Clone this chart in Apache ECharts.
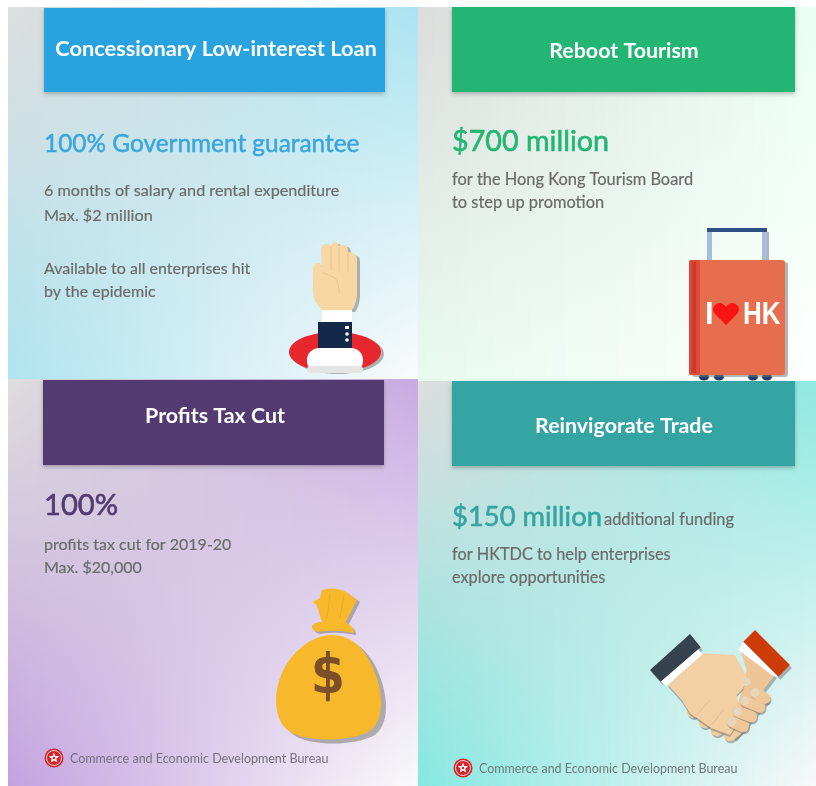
<!DOCTYPE html>
<html>
<head>
<meta charset="utf-8">
<style>
  html, body { margin: 0; padding: 0; background: #fff; }
  #main { width: 816px; height: 786px; }
</style>
<script src="https://cdn.jsdelivr.net/npm/echarts@6/dist/echarts.min.js"></script>
</head>
<body>
<div id="main"></div>
<script>
// panel contents, in order: top left, top right, bottom left, bottom right
const panelTitles = ["Concessionary Low-interest Loan", "Reboot Tourism", "Profits Tax Cut", "Reinvigorate Trade"];
const panelHighlights = ["100% Government guarantee", "$700 million", "100%", "$150 million"];
const panelColors = ["#29a3df", "#22b573", "#533a70", "#35a5a4"];
const bodyTopLeft = ["6 months of salary and rental expenditure", "Max. $2 million", "Available to all enterprises hit", "by the epidemic"];
const bodyTopRight = ["for the Hong Kong Tourism Board", "to step up promotion"];
const bodyBottomLeft = ["profits tax cut for 2019-20", "Max. $20,000"];
const bodyBottomRight = ["for HKTDC to help enterprises", "explore opportunities"];
const highlightSuffix = "additional funding";
const footerText = "Commerce and Economic Development Bureau";

const FONT = "Lato, 'Open Sans', sans-serif";
const GREY = "#6b6b6b";

const chart = echarts.init(document.getElementById("main"), null, { renderer: "canvas" });

// 文字
function label(text, x, y, size, fill, weight, align, thicken) {
  const style = {
    text: text, fill: fill, fontSize: size, fontFamily: FONT,
    fontWeight: weight || "normal", textAlign: align || "left", textVerticalAlign: "middle",
  };
  if (thicken) {
    style.stroke = fill;
    style.lineWidth = thicken;
  }
  return { type: "text", x: x, y: y, z: 20, style: style };
}

function hex(c) {
  return [1, 3, 5].map((i) => parseInt(c.slice(i, i + 2), 16));
}

function mix(a, b, t) {
  return a.map((v, i) => v + (b[i] - v) * t);
}

function rgb(c) {
  return "rgb(" + c.map((v) => Math.round(v)).join(",") + ")";
}

// 背景：四角颜色，竖条拼出双线性渐变
function panel(x, y, w, h, corners) {
  const [tl, tr, bl, br] = corners.map(hex);
  const step = 4;
  const strips = [];
  for (let sx = 0; sx < w; sx += step) {
    const t = (sx + step / 2) / w;
    strips.push({
      type: "rect", z: 1, silent: true,
      shape: { x: x + sx, y: y, width: Math.min(step, w - sx), height: h },
      style: {
        fill: {
          type: "linear", x: 0, y: 0, x2: 0, y2: 1,
          colorStops: [
            { offset: 0, color: rgb(mix(tl, tr, t)) },
            { offset: 1, color: rgb(mix(bl, br, t)) },
          ],
        },
      },
    });
  }
  return strips;
}

// 标题块
function header(x, y, w, h, color) {
  return {
    type: "rect", z: 5,
    shape: { x: x, y: y, width: w, height: h },
    style: { fill: color, shadowBlur: 4, shadowOffsetY: 2, shadowColor: "rgba(0,0,0,0.25)" },
  };
}

let shapeCount = 0;
function pathType(pathData) {
  const name = "iconPath" + shapeCount++;
  echarts.graphic.registerShape(name, echarts.graphic.extendPath(pathData));
  return name;
}

function withShadow(style, shadow) {
  if (shadow) {
    style.shadowColor = "rgba(120,120,120,0.55)";
    style.shadowOffsetX = shadow[0];
    style.shadowOffsetY = shadow[1];
    style.shadowBlur = 0;
  }
  return style;
}

function shape(pathData, fill, z, shadow) {
  return { type: pathType(pathData), z: z || 10, style: withShadow({ fill: fill }, shadow) };
}

function stroke(pathData, color, width, z, shadow) {
  return {
    type: pathType(pathData), z: z || 11,
    style: withShadow({ fill: "none", stroke: color, lineWidth: width, lineCap: "round" }, shadow),
  };
}

function dot(x, y, r, fill, z) {
  return { type: "circle", z: z || 12, shape: { cx: x, cy: y, r: r }, style: { fill: fill } };
}

function box(x, y, w, h, fill, z, r, shadow) {
  return { type: "rect", z: z || 10, shape: { x: x, y: y, width: w, height: h, r: r || 0 }, style: withShadow({ fill: fill }, shadow) };
}

function boldText(text, x, y, size, fill, family, scaleX) {
  return {
    type: "text", x: x, y: y, z: 13, scaleX: scaleX || 1,
    style: { text: text, fill: fill, fontSize: size, fontWeight: "bold", fontFamily: family, textVerticalAlign: "middle" },
  };
}

// 手和救生圈
function lifebuoyIcon() {
  return [
    { type: "ellipse", z: 8, shape: { cx: 335, cy: 352, rx: 46, ry: 20 }, style: withShadow({ fill: "#e8262d" }, [3, 2]) },
    box(307, 348, 56, 25, "#ffffff", 9, 12),
    box(307, 366, 56, 7, "#e4e4e4", 9, 4),
    shape("M322 310 Q313 302 313 290 L313 270 Q313 263 318 263 Q322 263 322 268 L321 250 Q321 244 326 244 Q330 244 331 246 Q332 242 335 242 Q338 242 339 246 Q342 244 345 245 Q348 246 348 252 Q352 252 354 254 Q357 255 357 260 L357 295 Q356 305 352 310 Z", "#f7d7a4", 10, [3, 2]),
    stroke("M331 247 L331 270 M339 247 L339 271 M348 253 L348 272 M323 273 Q332 276 335 278 Q339 282 339 293", "#e6c08b", 0.8),
    box(322, 310, 30, 13, "#ffffff", 12),
    box(318, 322, 34, 26, "#14294a", 13),
    box(345, 326, 4, 3, "#ffffff", 14),
    dot(347, 334, 1.8, "#ffffff", 14),
    dot(347, 340, 1.8, "#ffffff", 14),
  ];
}

// 行李箱
function suitcaseIcon() {
  const wheels = [704, 719, 753, 767];
  return [
    box(707, 232, 5, 30, "#a9bcd9", 8),
    box(762, 232, 5, 30, "#a9bcd9", 8, 0, [2, 0]),
    box(707, 228, 60, 4, "#2f4f85", 9),
    box(689, 260, 96, 115, "#e76d4f", 10, 3, [3, 2]),
    box(689, 260, 11, 115, "#dc4a36", 11, 2),
    box(692, 262, 4, 111, "#c93a30", 12),
    shape("M726 325 L715 314 Q711 309 715 305 Q721 300 726 307 Q731 300 737 305 Q741 309 737 314 Z", "#fb1212", 13),
    boldText("I", 705, 315, 31, "#ffffff", "'Liberation Sans', sans-serif"),
    boldText("HK", 743, 315, 31, "#ffffff", "'Liberation Sans', sans-serif", 0.84),
  ].concat(wheels.map((x) => ({ type: "ellipse", z: 9, shape: { cx: x, cy: 377, rx: 5, ry: 3.5 }, style: { fill: "#1d3e66" } })));
}

// 钱袋
function moneyBagIcon() {
  return [
    shape("M332 635 C352 635 366 650 374 670 C384 695 384 720 370 731 C350 742 310 742 292 733 C276 725 272 700 280 678 C288 655 310 635 332 635 Z", "#f7b92b", 10, [5, 4]),
    shape("M322 622 L317 606 L313 602 L320 598 L322 590 Q335 586 346 592 L357 600 L346 622 Z", "#f7b92b", 9, [3, 2]),
    stroke("M330 594 L327 618 M344 595 L340 618", "#e6a91f", 0.8),
    shape("M319 622 L345 622 Q354 626 354 633 Q335 629 318 632 Q311 630 312 626 Q314 623 319 622 Z", "#f7b92b", 11, [2, 2]),
    {
      type: "text", x: 328, y: 678, z: 12, scaleX: 0.88,
      style: { text: "$", fill: "#7a4f2a", fontSize: 56, fontWeight: "bold", fontFamily: "'DejaVu Sans', sans-serif", textAlign: "center", textVerticalAlign: "middle" },
    },
  ];
}

// 握手，坐标按放大图读取，再换算
function handshakeIcon() {
  const px = (p) => (640 + p[0] / 3).toFixed(1) + " " + (620 + p[1] / 3).toFixed(1);
  const toPath = (pts) => "M" + pts.map(px).join(" L") + " Z";
  const leftFingers = [
    [[210, 235], [160, 275]], [[250, 265], [195, 305]], [[285, 295], [230, 330]], [[310, 310], [270, 345]],
  ];
  const rightFingers = [
    [[375, 235], [345, 218]], [[360, 262], [315, 243]], [[335, 290], [293, 275]], [[310, 320], [275, 305]],
  ];
  const nails = [[345, 218], [315, 243], [293, 275], [275, 305], [318, 185]];
  const els = [
    shape(toPath([[300, 90], [405, 165], [370, 210], [385, 240], [345, 285], [285, 355], [270, 345], [320, 150]]), "#eec596", 9, [2, 3]),
    shape(toPath([[85, 195], [185, 100], [285, 105], [320, 170], [310, 205], [290, 225], [300, 300], [270, 345], [215, 325], [150, 280], [125, 240]]), "#f3d0a3", 11, [0, 2]),
    shape(toPath([[30, 150], [150, 42], [182, 82], [62, 185]]), "#37424f", 13, [2, 3]),
    shape(toPath([[62, 185], [175, 88], [188, 103], [80, 197]]), "#ffffff", 13),
    shape(toPath([[310, 65], [345, 30], [450, 135], [415, 170]]), "#cc3b08", 13, [2, 3]),
    shape(toPath([[295, 90], [310, 65], [415, 170], [400, 168]]), "#ffffff", 13),
    stroke("M" + px([210, 240]) + " L" + px([172, 283]) + " M" + px([250, 270]) + " L" + px([215, 315]), "#e3b885", 0.8, 13),
  ];
  leftFingers.forEach((f) => els.push(stroke("M" + px(f[0]) + " L" + px(f[1]), "#f2cc9c", 12.5, 10, [1, 2])));
  rightFingers.forEach((f) => els.push(stroke("M" + px(f[0]) + " L" + px(f[1]), "#efc798", 11, 12, [1, 2])));
  nails.forEach((n) => els.push({ type: "circle", z: 14, shape: { cx: 640 + n[0] / 3, cy: 620 + n[1] / 3, r: 4.4 }, style: { fill: "#e8d6bb" } }));
  return els;
}

// 区徽
function emblem(cx, cy) {
  const pts = [];
  for (let i = 0; i < 10; i++) {
    const r = i % 2 === 0 ? 5.5 : 2.4;
    const a = -Math.PI / 2 + (i * Math.PI) / 5;
    pts.push((cx + r * Math.cos(a)).toFixed(1) + " " + (cy + r * Math.sin(a)).toFixed(1));
  }
  return [
    dot(cx, cy, 9.5, "#d7232a", 12),
    { type: "circle", z: 13, shape: { cx: cx, cy: cy, r: 7.5 }, style: { fill: "none", stroke: "#f7d6d6", lineWidth: 1 } },
    shape("M" + pts.join(" L") + " Z", "#ffffff", 14),
    dot(cx, cy, 1.3, "#d7232a", 15),
  ];
}

const elements = [
  header(44, 8, 341, 84, panelColors[0]),
  header(452, 7, 343, 85, panelColors[1]),
  header(43, 380, 341, 85, panelColors[2]),
  header(452, 381, 343, 85, panelColors[3]),

  label(panelTitles[0], 216, 49, 21.8, "#ffffff", "bold", "center"),
  label(panelTitles[1], 624, 51, 21.4, "#ffffff", "bold", "center"),
  label(panelTitles[2], 215, 416, 21.4, "#ffffff", "bold", "center"),
  label(panelTitles[3], 624, 426, 21.4, "#ffffff", "bold", "center"),

  label(panelHighlights[0], 44, 144, 24.4, "#3aa6dd", "normal", "left", 0.5),
  label(panelHighlights[1], 452, 142, 28.7, panelColors[1], "normal", "left", 0.6),
  label(panelHighlights[2], 44, 506, 29.2, panelColors[2], "normal", "left", 0.6),
  label(panelHighlights[3], 452, 517, 27.4, panelColors[3], "normal", "left", 0.6),
  label(highlightSuffix, 604, 520, 16.4, GREY, "normal", "left", 0.2),

  label(bodyTopLeft[0], 44, 191, 16.2, GREY, "normal", "left", 0.2),
  label(bodyTopLeft[1], 44, 216, 16.2, GREY, "normal", "left", 0.2),
  label(bodyTopLeft[2], 44, 269, 16, GREY, "normal", "left", 0.2),
  label(bodyTopLeft[3], 44, 292, 16, GREY, "normal", "left", 0.2),
  label(bodyTopRight[0], 452, 180, 16.4, GREY, "normal", "left", 0.2),
  label(bodyTopRight[1], 452, 203, 16.4, GREY, "normal", "left", 0.2),
  label(bodyBottomLeft[0], 44, 545, 16, GREY, "normal", "left", 0.2),
  label(bodyBottomLeft[1], 44, 568, 16, GREY, "normal", "left", 0.2),
  label(bodyBottomRight[0], 452, 555, 16.3, GREY, "normal", "left", 0.2),
  label(bodyBottomRight[1], 452, 578, 16.3, GREY, "normal", "left", 0.2),

  label(footerText, 70, 759, 12.5, "#77707f"),
  label(footerText, 479, 769, 12.5, "#6f7a7c"),
]
  .concat(
    // 四块背景：左上、右上、左下、右下
    panel(8, 7, 410, 372, ["#dedede", "#a9e4f2", "#aee4f0", "#fbfbfb"]),
    panel(418, 7, 398, 374, ["#dcdcdc", "#e8fff2", "#e8fbef", "#ffffff"]),
    panel(8, 379, 410, 407, ["#dddddd", "#c9aae2", "#c4a2e0", "#fafafa"]),
    panel(418, 381, 398, 405, ["#dddddd", "#8ee9e2", "#86e8e2", "#f8f8f8"]),
    lifebuoyIcon(), suitcaseIcon(), moneyBagIcon(), handshakeIcon(), emblem(54, 758), emblem(463, 768)
  );

chart.setOption({
  animation: false,
  graphic: { elements: elements },
});
</script>
</body>
</html>
